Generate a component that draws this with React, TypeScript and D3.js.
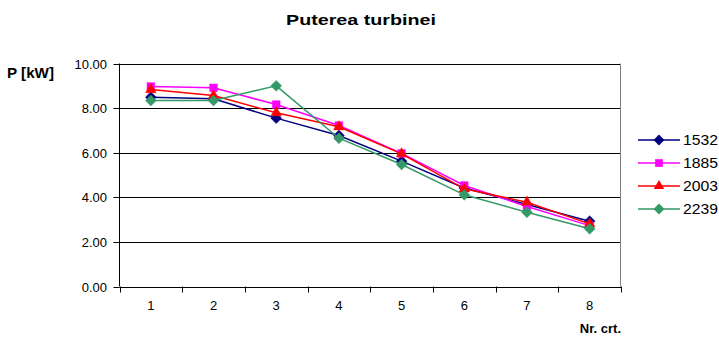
import React from "react";
import * as d3 from "d3";

const categories = ["1", "2", "3", "4", "5", "6", "7", "8"];
const seriesNames = ["1532", "1885", "2003", "2239"];
const values1532 = [8.49, 8.42, 7.55, 6.77, 5.62, 4.42, 3.68, 2.93];
const values1885 = [8.97, 8.91, 8.16, 7.22, 5.97, 4.53, 3.59, 2.73];
const values2003 = [8.83, 8.56, 7.79, 7.16, 5.95, 4.38, 3.78, 2.81];
const values2239 = [8.34, 8.34, 9.0, 6.65, 5.47, 4.11, 3.33, 2.59];
const yTicks = [0, 2, 4, 6, 8, 10];

const W = 719;
const H = 340;
const plot = { left: 119.5, right: 621, top: 63.5, bottom: 286.5 };

type Shape = "diamond" | "square" | "triangle";
const styles: { color: string; shape: Shape; size: number }[] = [
  { color: "#000080", shape: "diamond", size: 75 },
  { color: "#FF00FF", shape: "square", size: 75 },
  { color: "#FF0000", shape: "triangle", size: 80 },
  { color: "#339966", shape: "diamond", size: 75 },
];
const allSeries = [values1532, values1885, values2003, values2239];

const symbolFor = (s: Shape) =>
  s === "diamond" ? d3.symbolDiamond2 : s === "square" ? d3.symbolSquare2 : d3.symbolTriangle2;

const font = "'Liberation Sans', Arial, sans-serif";

export default function App() {
  const x = d3.scaleBand<string>().domain(categories).range([plot.left, plot.right]).paddingInner(0).paddingOuter(0);
  const y = d3.scaleLinear().domain([0, 10]).range([plot.bottom, plot.top]);
  const cx = (c: string) => (x(c) as number) + x.bandwidth() / 2;
  const line = d3
    .line<number>()
    .x((_, i) => cx(categories[i]))
    .y((v) => y(v));

  const edges = categories.map((c) => x(c) as number).concat([plot.right]);

  return (
    <div style={{ position: "absolute", left: 0, top: 0 }}>
      <svg width={W} height={H} style={{ display: "block", background: "#fff", fontFamily: font }}>
        <text x={361} y={25} textAnchor="middle" fontSize={15} fontWeight="bold" textLength={150} lengthAdjust="spacingAndGlyphs">
          Puterea turbinei
        </text>
        <text x={7} y={78} fontSize={14} fontWeight="bold" textLength={47} lengthAdjust="spacingAndGlyphs">
          P [kW]
        </text>

        {/* horizontal gridlines */}
        {yTicks.map((t) => (
          <line key={t} x1={plot.left} x2={plot.right} y1={Math.round(y(t)) + 0.5} y2={Math.round(y(t)) + 0.5} stroke="#000" strokeWidth={1} />
        ))}
        {/* right border of plot area */}
        <line x1={plot.right - 0.5} x2={plot.right - 0.5} y1={plot.top} y2={plot.bottom} stroke="#808080" />

        {/* y axis */}
        <line x1={plot.left} x2={plot.left} y1={plot.top} y2={plot.bottom} stroke="#000" />
        {yTicks.map((t) => {
          const yy = Math.round(y(t)) + 0.5;
          return (
            <g key={t}>
              <line x1={plot.left - 6} x2={plot.left} y1={yy} y2={yy} stroke="#000" />
              <text x={107} y={yy + 4.5} textAnchor="end" fontSize={13}>
                {t.toFixed(2)}
              </text>
            </g>
          );
        })}

        {/* x axis */}
        {edges.map((e, i) => (
          <line key={i} x1={Math.round(e) + 0.5} x2={Math.round(e) + 0.5} y1={plot.bottom} y2={plot.bottom + 6} stroke="#000" />
        ))}
        {categories.map((c) => (
          <text key={c} x={cx(c)} y={310} textAnchor="middle" fontSize={13}>
            {c}
          </text>
        ))}
        <text x={621} y={333} textAnchor="end" fontSize={13} fontWeight="bold">
          Nr. crt.
        </text>

        {/* series */}
        {allSeries.map((vals, si) => (
          <g key={si}>
            <path d={line(vals) || ""} fill="none" stroke={styles[si].color} strokeWidth={1.5} />
            {vals.map((v, i) => (
              <path
                key={i}
                transform={`translate(${cx(categories[i])},${y(v)})`}
                d={d3.symbol().type(symbolFor(styles[si].shape)).size(styles[si].size)() || ""}
                fill={styles[si].color}
                stroke={styles[si].color}
                strokeWidth={0.5}
              />
            ))}
          </g>
        ))}

        {/* legend */}
        {seriesNames.map((name, i) => {
          const ly = 140 + i * 23;
          return (
            <g key={name}>
              <line x1={638} x2={680} y1={ly} y2={ly} stroke={styles[i].color} strokeWidth={1.5} />
              <path
                transform={`translate(659,${ly})`}
                d={d3.symbol().type(symbolFor(styles[i].shape)).size(styles[i].size)() || ""}
                fill={styles[i].color}
              />
              <text x={683} y={ly + 5} fontSize={14} textLength={35} lengthAdjust="spacingAndGlyphs">
                {name}
              </text>
            </g>
          );
        })}
      </svg>
    </div>
  );
}
